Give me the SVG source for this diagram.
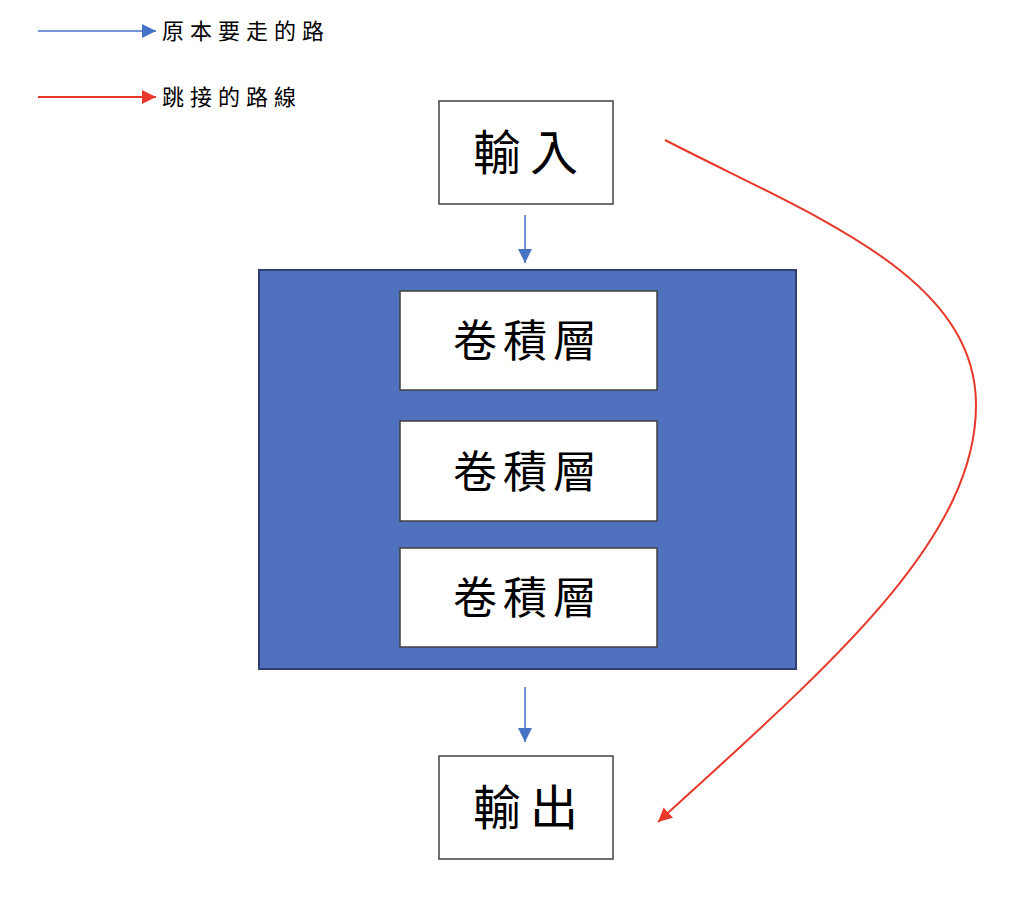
<svg xmlns="http://www.w3.org/2000/svg" width="1024" height="898" viewBox="0 0 1024 898">
<style>
.box{fill:#ffffff;stroke:#404040;stroke-width:1.5}
.t{font-family:"Noto Sans CJK TC","Noto Sans CJK SC",sans-serif;fill:#000000;text-anchor:middle}
.big{font-size:48px;letter-spacing:9px}
.mid{font-size:44px;letter-spacing:6px}
.leg{font-size:22px;letter-spacing:6px}
.blue{stroke:#4472C4;stroke-width:1.5;fill:none}
.red{stroke:#E8382A;stroke-width:2;fill:none}
</style>
<defs>
<marker id="abig" viewBox="0 0 10 10" refX="10" refY="5" markerWidth="14" markerHeight="14" markerUnits="userSpaceOnUse" orient="auto">
<path d="M0,0 L10,5 L0,10 z" fill="#4472C4"/>
</marker>
<marker id="ar" viewBox="0 0 10 10" refX="10" refY="5" markerWidth="14" markerHeight="14" markerUnits="userSpaceOnUse" orient="auto">
<path d="M0,0 L10,5 L0,10 z" fill="#E8382A"/>
</marker>
</defs>
<g id="legend">
<line x1="38" y1="31" x2="156" y2="31" class="blue" marker-end="url(#abig)"/>
<text x="246" y="39" class="t leg">原本要走的路</text>
<line x1="38" y1="97" x2="156" y2="97" class="red" stroke-width="1.5" marker-end="url(#ar)"/>
<text x="232" y="105" class="t leg">跳接的路線</text>
</g>
<g id="input">
<rect x="439" y="101" width="174" height="103" class="box"/>
<text x="530" y="170" class="t big">輸入</text>
</g>
<g id="block">
<rect x="259" y="270" width="537" height="399" fill="#4F71BE" stroke="#2F3F6F" stroke-width="2"/>
</g>
<g id="conv1">
<rect x="400" y="291" width="257" height="99" class="box"/>
<text x="528" y="357" class="t mid">卷積層</text>
</g>
<g id="conv2">
<rect x="400" y="421" width="257" height="100" class="box"/>
<text x="528" y="488" class="t mid">卷積層</text>
</g>
<g id="conv3">
<rect x="400" y="548" width="257" height="99" class="box"/>
<text x="528" y="614" class="t mid">卷積層</text>
</g>
<g id="output">
<rect x="439" y="756" width="174" height="103" class="box"/>
<text x="530" y="825" class="t big">輸出</text>
</g>
<g id="connectors">
<line x1="525" y1="215" x2="525" y2="263" class="blue" marker-end="url(#abig)"/>
<line x1="525" y1="687" x2="525" y2="742" class="blue" marker-end="url(#abig)"/>
<path d="M665,140 C810,215 976,275 976,405 C976,540 830,665 658,822" class="red" marker-end="url(#ar)"/>
</g>
</svg>
